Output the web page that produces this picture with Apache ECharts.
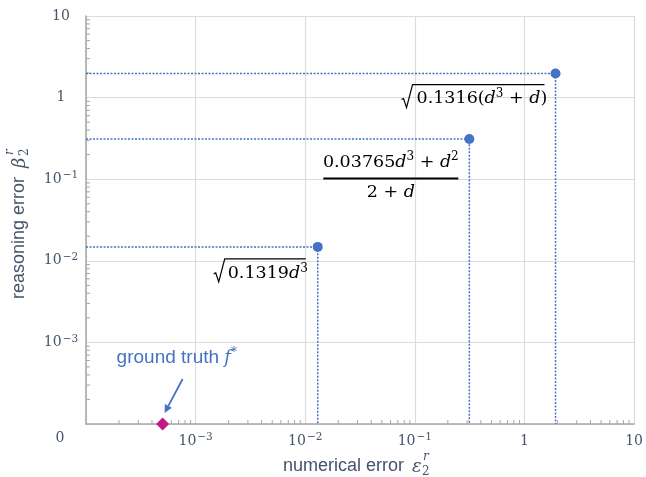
<!DOCTYPE html>
<html>
<head>
    <meta charset="utf-8" />
    <title>ECharts</title>
    <script src="https://cdn.jsdelivr.net/npm/echarts@6.0.0/dist/echarts.min.js"></script>
</head>
<body style="margin:0">
    <div id="main" style="width: 646px;height: 477px;"></div>
    <script type="text/javascript">
        // fitted models: numerical error vs reasoning error
        var numericalErr = [0.0130, 0.314, 1.92];
        var reasoningErr = [0.0148, 0.311, 1.97];
        // ground truth sits at zero reasoning error (drawn on the axis floor)
        var truthNumErr = [5.0e-4];
        var truthReasErr = [1e-4];
        // decade labels from 1e-4 (shown as "0" at the corner) to 10
        var decadeLabels = ['', '{b|10}{s|−3}', '{b|10}{s|−2}', '{b|10}{s|−1}', '{b|1}', '{b|10}'];
        var axisMin = 1e-4, axisMax = 10;

        var textColor = '#44546a';
        var blue = '#4472c4';

        var myChart = echarts.init(document.getElementById('main'));

        function labelFmt(v) {
            var e = Math.round(Math.log10(v));
            return decadeLabels[e + 4] || '';
        }

        // minor ticks 2..9 per decade
        var minorVals = [];
        for (var e = -4; e < 1; e++) {
            for (var k = 2; k <= 9; k++) minorVals.push(k * Math.pow(10, e));
        }

        var labelRich = {
            b: { fontFamily: 'DejaVu Serif', fontSize: 14, color: textColor, lineHeight: 18 },
            s: { fontFamily: 'DejaVu Serif', fontSize: 10.5, color: textColor, lineHeight: 11, verticalAlign: 'top', padding: [0, 0, 0, 1] }
        };

        function logAxis(isY) {
            return {
                type: 'log',
                logBase: 10,
                min: axisMin,
                max: axisMax,
                splitNumber: 5,
                axisLine: { show: true, lineStyle: { color: '#a6a6a6', width: 1.5 } },
                axisTick: { show: false },
                splitLine: { show: true, lineStyle: { color: '#dcdcdc', width: 1.2 } },
                axisLabel: {
                    formatter: labelFmt,
                    fontFamily: 'DejaVu Serif',
                    fontSize: 14,
                    color: textColor,
                    align: isY ? 'center' : undefined,
                    margin: isY ? 25 : 8,
                    rich: labelRich
                }
            };
        }

        var guideSeries = numericalErr.map(function (x, i) {
            return {
                type: 'line',
                data: [[axisMin, reasoningErr[i]], [x, reasoningErr[i]], [x, axisMin]],
                symbol: 'none',
                silent: true,
                lineStyle: { color: blue, width: 1.5, type: [2, 1.5] },
                z: 2
            };
        });

        var option = {
            animation: false,
            grid: { left: 86, right: 7, top: 16, bottom: 53, containLabel: false },
            xAxis: logAxis(false),
            yAxis: logAxis(true),
            series: guideSeries.concat([
                {
                    type: 'custom',
                    silent: true,
                    clip: false,
                    data: minorVals.map(function (v) { return [v, axisMin]; }),
                    renderItem: function (params, api) {
                        var p = api.coord([api.value(0), api.value(1)]);
                        return { type: 'line', shape: { x1: p[0], y1: p[1], x2: p[0], y2: p[1] - 4 }, style: { stroke: '#a6a6a6', lineWidth: 1 } };
                    }
                },
                {
                    type: 'custom',
                    silent: true,
                    clip: false,
                    data: minorVals.map(function (v) { return [axisMin, v]; }),
                    renderItem: function (params, api) {
                        var p = api.coord([api.value(0), api.value(1)]);
                        return { type: 'line', shape: { x1: p[0], y1: p[1], x2: p[0] + 4, y2: p[1] }, style: { stroke: '#a6a6a6', lineWidth: 1 } };
                    }
                },
                {
                    type: 'scatter',
                    data: numericalErr.map(function (x, i) { return [x, reasoningErr[i]]; }),
                    symbol: 'circle',
                    symbolSize: 10,
                    itemStyle: { color: blue, opacity: 1 },
                    z: 5
                },
                {
                    type: 'scatter',
                    data: truthNumErr.map(function (x, i) { return [x, truthReasErr[i]]; }),
                    symbol: 'diamond',
                    symbolSize: 13,
                    clip: false,
                    itemStyle: { color: '#c21a85', opacity: 1 },
                    z: 6
                }
            ])
        };

        myChart.setOption(option);

        // annotations placed relative to the points
        var fRich = {
            n: { fontFamily: 'DejaVu Serif', fontSize: 17.5, fill: '#000', lineHeight: 22 },
            i: { fontFamily: 'DejaVu Serif', fontStyle: 'italic', fontSize: 17.5, fill: '#000', lineHeight: 22 },
            p: { fontFamily: 'DejaVu Serif', fontSize: 12, fill: '#000', lineHeight: 14, verticalAlign: 'top' }
        };

        function txt(x, y, text, align, rich, extra) {
            var style = {
                text: text, x: 0, y: 0,
                align: align, textAlign: align,
                verticalAlign: 'middle', textVerticalAlign: 'middle',
                rich: rich
            };
            for (var key in extra) style[key] = extra[key];
            return { type: 'text', x: x, y: y, style: style, z: 10 };
        }

        function radical(P, dx0, top, dxEnd) {
            var x = P[0], y = P[1];
            return {
                type: 'polyline', z: 10,
                shape: { points: [[x + dx0, y + top + 15], [x + dx0 + 2, y + top + 14], [x + dx0 + 5, y + top + 23], [x + dx0 + 11, y + top], [x + dxEnd, y + top]] },
                style: { stroke: '#000', lineWidth: 1.2, fill: null }
            };
        }

        var P = numericalErr.map(function (x, i) {
            return myChart.convertToPixel({ gridIndex: 0 }, [x, reasoningErr[i]]);
        });
        var D = myChart.convertToPixel({ gridIndex: 0 }, [truthNumErr[0], truthReasErr[0]]);

        // arrow for ground truth
        var aS = [D[0] + 20, D[1] - 45], aT = [D[0] + 2, D[1] - 11];
        var dx = aT[0] - aS[0], dy = aT[1] - aS[1], len = Math.sqrt(dx * dx + dy * dy);
        var ux = dx / len, uy = dy / len;
        var bx = aT[0] - ux * 8, by = aT[1] - uy * 8;

        var graphics = [
            // formula near the smallest point
            radical(P[0], -104, 12, -12),
            txt(P[0][0] - 90, P[0][1] + 27, '{n|0.1319}{i|d}{p|3}', 'left', fRich, {}),
            // fraction
            txt(P[1][0] - 78.5, P[1][1] + 23, '{n|0.03765}{i|d}{p|3}{n| + }{i|d}{p|2}', 'center', fRich, {}),
            { type: 'rect', z: 10, shape: { x: P[1][0] - 146, y: P[1][1] + 38.5, width: 135, height: 2 }, style: { fill: '#000' } },
            txt(P[1][0] - 78.5, P[1][1] + 53, '{n|2 + }{i|d}', 'center', fRich, {}),
            // top formula
            radical(P[2], -154, 11, -11),
            txt(P[2][0] - 139, P[2][1] + 25, '{n|0.1316(}{i|d}{p|3}{n| + }{i|d}{n|)}', 'left', fRich, {}),
            // ground truth label and arrow
            txt(D[0] - 46, D[1] - 66, '{g|ground truth }{f|f}{s|*}', 'left', {
                g: { fontFamily: 'Liberation Sans', fontSize: 19, fill: blue, lineHeight: 22 },
                f: { fontFamily: 'DejaVu Serif', fontStyle: 'italic', fontSize: 18, fill: blue, lineHeight: 22 },
                s: { fontFamily: 'DejaVu Serif', fontSize: 12, fill: blue, lineHeight: 12, verticalAlign: 'top' }
            }, {}),
            { type: 'line', z: 10, shape: { x1: aS[0], y1: aS[1], x2: bx, y2: by }, style: { stroke: blue, lineWidth: 1.8 } },
            { type: 'polygon', z: 10, shape: { points: [aT, [bx - uy * 4, by + ux * 4], [bx + uy * 4, by - ux * 4]] }, style: { fill: blue } },
            // origin label
            txt(60, 438, '0', 'center', null, { fontFamily: 'DejaVu Serif', fontSize: 14, fill: textColor }),
            // x axis title
            {
                type: 'group', x: 283, y: 466,
                children: [
                    txt(0, 0, 'numerical error', 'left', null, { fontFamily: 'Liberation Sans', fontSize: 18, fill: textColor }),
                    txt(129, 1, 'ε', 'left', null, { fontFamily: 'DejaVu Serif', fontStyle: 'italic', fontSize: 18, fill: textColor }),
                    txt(140, -9, 'r', 'left', null, { fontFamily: 'DejaVu Serif', fontStyle: 'italic', fontSize: 12, fill: textColor }),
                    txt(139, 6, '2', 'left', null, { fontFamily: 'DejaVu Serif', fontSize: 12, fill: textColor })
                ]
            },
            // y axis title (rotated)
            {
                type: 'group', x: 19, y: 299, rotation: Math.PI / 2,
                children: [
                    txt(0, 0, 'reasoning error', 'left', null, { fontFamily: 'Liberation Sans', fontSize: 18, fill: textColor }),
                    txt(131, 1, 'β', 'left', null, { fontFamily: 'DejaVu Serif', fontStyle: 'italic', fontSize: 18, fill: textColor }),
                    txt(144, -9, 'r', 'left', null, { fontFamily: 'DejaVu Serif', fontStyle: 'italic', fontSize: 12, fill: textColor }),
                    txt(143, 6, '2', 'left', null, { fontFamily: 'DejaVu Serif', fontSize: 12, fill: textColor })
                ]
            }
        ];

        myChart.setOption({ graphic: graphics });
    </script>
</body>
</html>
